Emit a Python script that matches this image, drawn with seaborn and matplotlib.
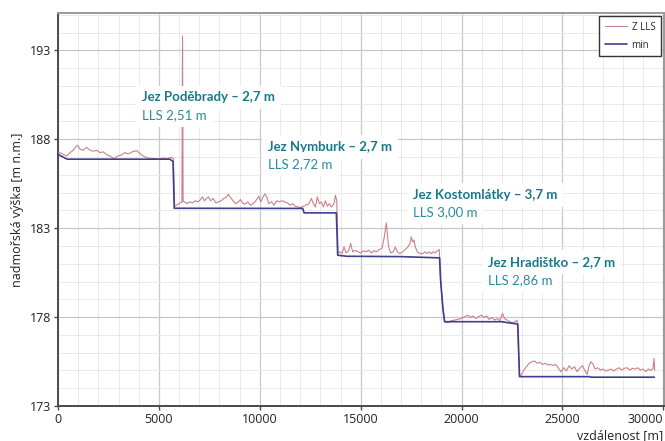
import matplotlib
matplotlib.use("Agg")
import matplotlib.pyplot as plt
import seaborn as sns
import pandas as pd
from matplotlib.ticker import MultipleLocator

# ---- data ----
zlls_dist = [0, 181, 430, 594, 759, 875, 974, 1089, 1254, 1419, 1584, 1749, 1914, 2079, 2244,
             2409, 2574, 2789, 2954, 3118, 3316, 3481, 3679, 3894, 4059, 4224, 4439, 4637, 4802,
             5000, 5214, 5429, 5627, 5720, 5780,
             5874, 6039, 6140, 6171, 6200, 6270, 6402, 6534, 6666, 6798, 6930, 7062, 7161, 7260,
             7359, 7458, 7557, 7689, 7821, 7953, 8085, 8217, 8349, 8448, 8547, 8679, 8811, 8943,
             9042, 9141, 9273, 9405, 9537, 9669, 9801, 9949, 10048, 10147, 10246, 10345, 10444,
             10577, 10709, 10841, 10973, 11105, 11237, 11369, 11501, 11633, 11765, 11897, 12029,
             12161, 12293, 12425, 12557, 12656, 12755, 12854, 12953, 13052, 13151, 13250, 13349,
             13448, 13547, 13679, 13745, 13811, 13880,
             13959, 14074, 14173, 14272, 14404, 14503, 14602, 14734, 14866, 14998, 15130, 15262,
             15394, 15526, 15658, 15790, 15922, 16054, 16153, 16219, 16269, 16318, 16384, 16483,
             16615, 16714, 16813, 16946, 17078, 17210, 17342, 17441, 17507, 17573, 17639, 17705,
             17804, 17936, 18068, 18200, 18299, 18398, 18497, 18596, 18695, 18794, 18893, 18960,
             19074, 19157, 19322, 19487, 19652, 19817, 19982, 20147, 20312, 20444, 20576, 20708,
             20840, 20972, 21104, 21236, 21368, 21500, 21632, 21764, 21896, 22028, 22127, 22259,
             22391, 22523, 22655, 22754, 22870,
             22952, 23084, 23216, 23348, 23480, 23612, 23744, 23876, 24008, 24140, 24272, 24404,
             24536, 24668, 24800, 24932, 25064, 25196, 25328, 25460, 25592, 25724, 25856, 25988,
             26120, 26219, 26318, 26417, 26516, 26615, 26747, 26879, 27011, 27143, 27275, 27407,
             27539, 27671, 27803, 27935, 28067, 28199, 28331, 28463, 28595, 28727, 28859, 28991,
             29123, 29255, 29387, 29486, 29536, 29568]
zlls_height = [187.29, 187.20, 187.06, 187.25, 187.38, 187.57, 187.66, 187.44, 187.38, 187.55,
               187.38, 187.33, 187.38, 187.25, 187.29, 187.14, 187.05, 186.91, 187.06, 187.10,
               187.25, 187.17, 187.29, 187.36, 187.20, 187.06, 186.95, 186.91, 186.91, 186.88,
               186.95, 186.91, 186.99, 186.90, 184.25,
               184.29, 184.42, 184.45, 193.80, 184.50, 184.48, 184.38, 184.48, 184.42, 184.54,
               184.48, 184.61, 184.76, 184.54, 184.67, 184.76, 184.54, 184.67, 184.42, 184.48,
               184.54, 184.67, 184.76, 184.91, 184.72, 184.54, 184.38, 184.48, 184.61, 184.42,
               184.35, 184.48, 184.29, 184.38, 184.54, 184.80, 184.48, 184.72, 184.93, 184.76,
               184.38, 184.48, 184.29, 184.54, 184.48, 184.54, 184.48, 184.42, 184.29, 184.38,
               184.23, 184.19, 184.16, 184.23, 184.31, 184.35, 184.67, 184.38, 184.19, 184.76,
               184.38, 184.48, 184.19, 184.54, 184.23, 184.38, 184.19, 184.38, 184.85, 184.57,
               181.60,
               181.67, 181.57, 181.95, 181.61, 181.73, 182.14, 181.67, 181.76, 181.67, 181.61,
               181.73, 181.67, 181.76, 181.61, 181.73, 181.67, 181.80, 181.86, 182.42, 182.89,
               183.30, 182.70, 181.95, 181.61, 181.67, 181.95, 181.67, 181.57, 181.67, 181.80,
               181.95, 182.14, 182.51, 182.23, 182.33, 181.95, 181.67, 181.57, 181.57, 181.67,
               181.57, 181.67, 181.57, 181.67, 181.61, 181.73, 181.80, 180.10,
               178.50, 177.74, 177.68, 177.80, 177.83, 177.87, 177.92, 178.02, 178.11, 177.98,
               178.06, 177.92, 178.02, 178.11, 177.98, 178.06, 177.87, 177.98, 177.83, 177.92,
               177.80, 178.21, 177.92, 177.83, 177.74, 177.68, 177.74, 177.83, 174.70,
               174.74, 175.02, 175.21, 175.40, 175.49, 175.53, 175.40, 175.46, 175.34, 175.40,
               175.31, 175.34, 175.27, 175.34, 175.12, 174.93, 175.15, 174.97, 175.27, 175.08,
               175.21, 174.93, 175.12, 175.27, 174.97, 174.78, 175.27, 175.49, 175.34, 175.08,
               175.15, 175.02, 175.08, 174.97, 175.02, 175.08, 174.97, 175.08, 175.15, 175.02,
               175.12, 175.15, 175.02, 175.12, 175.08, 175.15, 175.02, 175.08, 174.93, 175.08,
               175.00, 175.12, 175.68, 175.02]

min_dist = [0, 450, 5545, 5700, 5760, 12130, 12194, 13793, 13860, 14300, 17000, 18909, 18959,
            19074, 19157, 21962, 22704, 22787, 22869, 26340, 26400, 29552]
min_height = [187.15, 186.88, 186.88, 186.75, 184.12, 184.11, 183.86, 183.86, 181.48, 181.42,
              181.40, 181.33, 180.08, 178.49, 177.74, 177.74, 177.62, 177.60, 174.65, 174.65,
              174.62, 174.62]

weir_names = ["Jez Poděbrady – 2,7 m", "Jez Nymburk – 2,7 m",
              "Jez Kostomlátky – 3,7 m", "Jez Hradištko – 2,7 m"]
weir_lls = ["LLS 2,51 m", "LLS 2,72 m", "LLS 3,00 m", "LLS 2,86 m"]
label_x = [4160, 10400, 17570, 21290]
label_y = [190.35, 187.55, 184.85, 181.10]
lls_y = [189.35, 186.62, 183.88, 180.10]

x_ticks = [0, 5000, 10000, 15000, 20000, 25000, 30000]
y_ticks = [173, 178, 183, 188, 193]

# ---- plot ----
sns.set_theme(style="white")
plt.rcParams["font.family"] = ["Open Sans", "DejaVu Sans"]

fig = plt.figure(figsize=(6.65, 4.41), dpi=100)
ax = fig.add_axes([58 / 665, 35 / 441, (664 - 58) / 665, (428 - 35) / 441])

df_z = pd.DataFrame({"dist": zlls_dist, "h": zlls_height})
df_m = pd.DataFrame({"dist": min_dist, "h": min_height})

red = "#cd8088"
blue = "#3d3f8e"
sns.lineplot(data=df_z, x="dist", y="h", ax=ax, color=red, lw=0.8, estimator=None,
             sort=False, label="Z LLS", zorder=3)
sns.lineplot(data=df_m, x="dist", y="h", ax=ax, color=blue, lw=1.2, estimator=None,
             sort=False, label="min", zorder=4)

ax.set_xlim(0, 30030)
ax.set_ylim(173, 195.1)
ax.set_xticks(x_ticks)
ax.set_yticks(y_ticks)
ax.xaxis.set_minor_locator(MultipleLocator(1000))
ax.yaxis.set_minor_locator(MultipleLocator(1))
ax.grid(which="major", color="#c8c8c8", lw=0.9)
ax.grid(which="minor", color="#e6e6e6", lw=0.6)
ax.set_axisbelow(True)

for side in ["left", "bottom"]:
    ax.spines[side].set_color("#4a4a4a")
    ax.spines[side].set_linewidth(1.4)
for side in ["top", "right"]:
    ax.spines[side].set_color("#9a9a9a")
    ax.spines[side].set_linewidth(1.4)

ax.tick_params(axis="both", which="major", direction="out", length=3, width=1,
               color="#4a4a4a", labelsize=9, labelcolor="#222222", pad=2,
               left=True, bottom=True)
ax.tick_params(axis="both", which="minor", length=0)
labels = ax.get_xticklabels()
labels[-1].set_horizontalalignment("right")

ax.set_xlabel("")
ax.set_ylabel("nadmořská výška [m n.m.]", fontsize=9, color="#222222", labelpad=4)
fig.text(663 / 665, 1 - 436 / 441, "vzdálenost [m]", ha="right", va="center",
         fontsize=9, color="#222222")

teal_b = "#17798b"
teal = "#2a8b9c"
for nm, ll, lx, ly, ly2 in zip(weir_names, weir_lls, label_x, label_y, lls_y):
    ax.text(lx, ly, nm, fontsize=9.5, fontweight="bold", color=teal_b, va="center",
            ha="left", zorder=6, family=["Lato", "DejaVu Sans"],
            bbox=dict(boxstyle="square,pad=0.45", fc="white", ec="none"))
    ax.text(lx, ly2, ll, fontsize=9.5, color=teal, va="center", ha="left", zorder=6,
            family=["Lato", "DejaVu Sans"],
            bbox=dict(boxstyle="square,pad=0.45", fc="white", ec="none"))

leg = ax.legend(loc="upper right", fontsize=7, frameon=True, fancybox=False,
                edgecolor="#333333", framealpha=1, borderaxespad=0.3,
                handlelength=2.2, handletextpad=0.5, borderpad=0.6, labelspacing=0.7)
leg.get_frame().set_linewidth(1.0)

fig.savefig("out.png", dpi=100)
